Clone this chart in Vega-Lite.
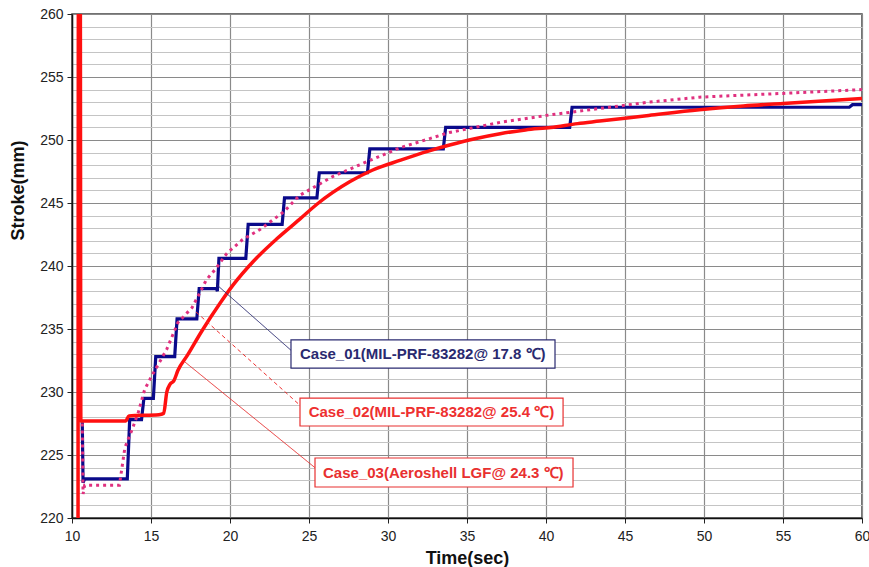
{
  "$schema": "https://vega.github.io/schema/vega-lite/v6.json",
  "width": 790,
  "height": 504,
  "autosize": {"type": "none"},
  "padding": {"left": 72, "top": 14, "right": 7, "bottom": 49},
  "background": "white",
  "config": {
    "font": "Liberation Sans",
    "view": {"stroke": "#444", "strokeWidth": 1.5}
  },
  "datasets": {
    "curves": [
      {"s": "c1", "t": 10.65, "v": 227.6}, {"s": "c1", "t": 10.7, "v": 222.8}, {"s": "c1", "t": 10.8, "v": 223.1},
      {"s": "c1", "t": 13.5, "v": 223.1}, {"s": "c1", "t": 13.65, "v": 227.8}, {"s": "c1", "t": 14.4, "v": 227.8},
      {"s": "c1", "t": 14.55, "v": 229.5}, {"s": "c1", "t": 15.15, "v": 229.5}, {"s": "c1", "t": 15.3, "v": 232.8},
      {"s": "c1", "t": 16.5, "v": 232.8}, {"s": "c1", "t": 16.65, "v": 235.8}, {"s": "c1", "t": 17.9, "v": 235.8},
      {"s": "c1", "t": 18.05, "v": 238.2}, {"s": "c1", "t": 19.15, "v": 238.2}, {"s": "c1", "t": 19.2, "v": 238.0},
      {"s": "c1", "t": 19.3, "v": 240.6}, {"s": "c1", "t": 21.0, "v": 240.6}, {"s": "c1", "t": 21.15, "v": 243.3},
      {"s": "c1", "t": 23.3, "v": 243.3}, {"s": "c1", "t": 23.45, "v": 245.4}, {"s": "c1", "t": 25.5, "v": 245.4},
      {"s": "c1", "t": 25.65, "v": 247.4}, {"s": "c1", "t": 28.7, "v": 247.4}, {"s": "c1", "t": 28.85, "v": 249.3},
      {"s": "c1", "t": 33.5, "v": 249.3}, {"s": "c1", "t": 33.65, "v": 251.0}, {"s": "c1", "t": 41.5, "v": 251.0},
      {"s": "c1", "t": 41.65, "v": 252.6}, {"s": "c1", "t": 59.2, "v": 252.6}, {"s": "c1", "t": 59.4, "v": 252.8},
      {"s": "c1", "t": 60, "v": 252.8},

      {"s": "c2", "t": 10.65, "v": 227.5}, {"s": "c2", "t": 10.7, "v": 221.9}, {"s": "c2", "t": 10.8, "v": 222.6},
      {"s": "c2", "t": 13.0, "v": 222.6}, {"s": "c2", "t": 13.35, "v": 225.6}, {"s": "c2", "t": 13.8, "v": 227.0},
      {"s": "c2", "t": 14.2, "v": 228.4}, {"s": "c2", "t": 14.6, "v": 230.2}, {"s": "c2", "t": 15.1, "v": 231.4},
      {"s": "c2", "t": 15.6, "v": 232.5}, {"s": "c2", "t": 16.0, "v": 233.4}, {"s": "c2", "t": 16.7, "v": 235.5},
      {"s": "c2", "t": 17.6, "v": 236.7}, {"s": "c2", "t": 18.1, "v": 237.9}, {"s": "c2", "t": 18.5, "v": 238.9},
      {"s": "c2", "t": 19.05, "v": 239.7}, {"s": "c2", "t": 19.8, "v": 241.0}, {"s": "c2", "t": 20.8, "v": 242.1},
      {"s": "c2", "t": 21.9, "v": 242.9}, {"s": "c2", "t": 23.4, "v": 244.3}, {"s": "c2", "t": 24.4, "v": 245.6},
      {"s": "c2", "t": 26.5, "v": 247.1}, {"s": "c2", "t": 28.7, "v": 248.3}, {"s": "c2", "t": 30.8, "v": 249.4},
      {"s": "c2", "t": 33.9, "v": 250.6}, {"s": "c2", "t": 37.1, "v": 251.4}, {"s": "c2", "t": 40.3, "v": 252.0},
      {"s": "c2", "t": 43.4, "v": 252.5}, {"s": "c2", "t": 46.5, "v": 253.0}, {"s": "c2", "t": 49.7, "v": 253.4},
      {"s": "c2", "t": 55, "v": 253.7}, {"s": "c2", "t": 60, "v": 254.0},

      {"s": "c3", "t": 10.38, "v": 214}, {"s": "c3", "t": 10.41, "v": 266}, {"s": "c3", "t": 10.52, "v": 266},
      {"s": "c3", "t": 10.56, "v": 227.7}, {"s": "c3", "t": 13.4, "v": 227.7}, {"s": "c3", "t": 13.6, "v": 228.1},
      {"s": "c3", "t": 15.5, "v": 228.2}, {"s": "c3", "t": 15.8, "v": 228.3}, {"s": "c3", "t": 16.0, "v": 230.0},
      {"s": "c3", "t": 16.2, "v": 230.6}, {"s": "c3", "t": 16.45, "v": 230.9}, {"s": "c3", "t": 16.7, "v": 231.7},
      {"s": "c3", "t": 17.3, "v": 232.9}, {"s": "c3", "t": 18.2, "v": 234.8}, {"s": "c3", "t": 19.4, "v": 237.1},
      {"s": "c3", "t": 20.2, "v": 238.5}, {"s": "c3", "t": 21.5, "v": 240.4}, {"s": "c3", "t": 23.0, "v": 242.2},
      {"s": "c3", "t": 24.4, "v": 243.7}, {"s": "c3", "t": 25.5, "v": 244.9}, {"s": "c3", "t": 27.6, "v": 246.7},
      {"s": "c3", "t": 29.0, "v": 247.6}, {"s": "c3", "t": 30.8, "v": 248.4}, {"s": "c3", "t": 32.5, "v": 249.1},
      {"s": "c3", "t": 33.9, "v": 249.6}, {"s": "c3", "t": 35.5, "v": 250.1}, {"s": "c3", "t": 37.1, "v": 250.5},
      {"s": "c3", "t": 38.7, "v": 250.8}, {"s": "c3", "t": 40.3, "v": 251.0}, {"s": "c3", "t": 42.0, "v": 251.3},
      {"s": "c3", "t": 43.4, "v": 251.5}, {"s": "c3", "t": 46.5, "v": 251.95}, {"s": "c3", "t": 49.7, "v": 252.4},
      {"s": "c3", "t": 52.5, "v": 252.7}, {"s": "c3", "t": 55, "v": 252.9}, {"s": "c3", "t": 57.5, "v": 253.1},
      {"s": "c3", "t": 60, "v": 253.3}
    ],
    "leaders": [
      {"s": "c1", "t": 19.11, "v": 238.57, "t2": 23.99, "v2": 233.17},
      {"s": "c2", "t": 17.85, "v": 236.35, "t2": 24.56, "v2": 228.8},
      {"s": "c3", "t": 17.15, "v": 232.38, "t2": 25.57, "v2": 223.8}
    ],
    "boxes": [
      {"s": "c1", "t": 23.86, "t2": 40.57, "v": 231.9, "v2": 234.13},
      {"s": "c2", "t": 24.43, "t2": 41.08, "v": 227.3, "v2": 229.52},
      {"s": "c3", "t": 25.38, "t2": 41.71, "v": 222.46, "v2": 224.76}
    ],
    "labels": [
      {"s": "c1", "t": 32.2, "v": 233.0, "label": "Case_01(MIL-PRF-83282@ 17.8 ℃)"},
      {"s": "c2", "t": 32.75, "v": 228.4, "label": "Case_02(MIL-PRF-83282@ 25.4 ℃)"},
      {"s": "c3", "t": 33.5, "v": 223.6, "label": "Case_03(Aeroshell LGF@ 24.3 ℃)"}
    ]
  },
  "encoding": {
    "x": {
      "field": "t", "type": "quantitative",
      "scale": {"domain": [10, 60], "nice": false, "zero": false},
      "axis": {
        "title": "Time(sec)", "titleFontSize": 18, "titleFontWeight": "bold", "titleColor": "#111",
        "titleBaseline": "middle", "titleY": 40,
        "values": [10, 15, 20, 25, 30, 35, 40, 45, 50, 55, 60],
        "labelFontSize": 14, "labelColor": "#222", "labelPadding": 6,
        "tickSize": 5, "tickColor": "#222", "domainColor": "#111", "domainWidth": 1.5,
        "gridColor": "#8a8a8a", "gridWidth": 1.2, "labelFlush": false
      }
    },
    "y": {
      "field": "v", "type": "quantitative",
      "scale": {"domain": [220, 260], "nice": false, "zero": false},
      "axis": {
        "title": "Stroke(mm)", "titleFontSize": 18, "titleFontWeight": "bold", "titleColor": "#111",
        "titleX": -54, "titleY": 176, "titleBaseline": "middle", "titleAngle": -90, "titleAlign": "center",
        "values": [220,221,222,223,224,225,226,227,228,229,230,231,232,233,234,235,236,237,238,239,240,241,242,243,244,245,246,247,248,249,250,251,252,253,254,255,256,257,258,259,260],
        "labelExpr": "datum.value % 5 === 0 ? datum.label : ''",
        "labelFontSize": 14, "labelColor": "#222", "labelPadding": 4,
        "tickSize": 5, "tickColor": "#222",
        "tickOpacity": {"condition": {"test": "datum.value % 5 === 0", "value": 1}, "value": 0},
        "gridColor": {"condition": {"test": "datum.value % 5 === 0", "value": "#8a8a8a"}, "value": "#c4c4c4"},
        "gridWidth": 1.2, "domainColor": "#111", "domainWidth": 1.5, "labelFlush": false
      }
    }
  },
  "layer": [
    {
      "data": {"name": "curves"},
      "transform": [{"filter": "datum.s === 'c1'"}],
      "mark": {"type": "line", "clip": true, "color": "#0a0a8a", "strokeWidth": 3.2, "strokeJoin": "miter"},
      "encoding": {"order": {"value": null}}
    },
    {
      "data": {"name": "curves"},
      "transform": [{"filter": "datum.s === 'c2'"}],
      "mark": {"type": "line", "clip": true, "color": "#e0307f", "strokeWidth": 3, "strokeDash": [3, 4], "strokeCap": "butt"},
      "encoding": {"order": {"value": null}}
    },
    {
      "data": {"name": "curves"},
      "transform": [{"filter": "datum.s === 'c3'"}],
      "mark": {"type": "line", "clip": true, "color": "#ff1010", "strokeWidth": 3.5, "interpolate": "monotone"},
      "encoding": {"order": {"value": null}}
    },
    {
      "data": {"name": "leaders"},
      "mark": {"type": "rule", "strokeWidth": 1},
      "encoding": {
        "x2": {"field": "t2"},
        "y2": {"field": "v2"},
        "color": {"field": "s", "type": "nominal", "scale": {"domain": ["c1", "c2", "c3"], "range": ["#2a2a70", "#ee3030", "#e83030"]}, "legend": null},
        "strokeDash": {"field": "s", "type": "nominal", "scale": {"domain": ["c1", "c2", "c3"], "range": [[1, 0], [4, 3], [1, 0]]}, "legend": null}
      }
    },
    {
      "data": {"name": "boxes"},
      "mark": {"type": "rect", "fill": "white", "strokeWidth": 1.2},
      "encoding": {
        "x2": {"field": "t2"},
        "y2": {"field": "v2"},
        "stroke": {"field": "s", "type": "nominal", "scale": {"domain": ["c1", "c2", "c3"], "range": ["#2a2a70", "#e83030", "#e83030"]}, "legend": null},
        "strokeDash": {"field": "s", "type": "nominal", "scale": {"domain": ["c1", "c2", "c3"], "range": [[1, 0], [4, 3], [1, 0]]}, "legend": null}
      }
    },
    {
      "data": {"name": "labels"},
      "mark": {"type": "text", "fontSize": 15, "fontWeight": "bold", "align": "center", "baseline": "middle"},
      "encoding": {
        "text": {"field": "label"},
        "color": {"field": "s", "type": "nominal", "scale": {"domain": ["c1", "c2", "c3"], "range": ["#111111", "#ee1c1c", "#ee1c1c"]}, "legend": null}
      }
    }
  ]
}
